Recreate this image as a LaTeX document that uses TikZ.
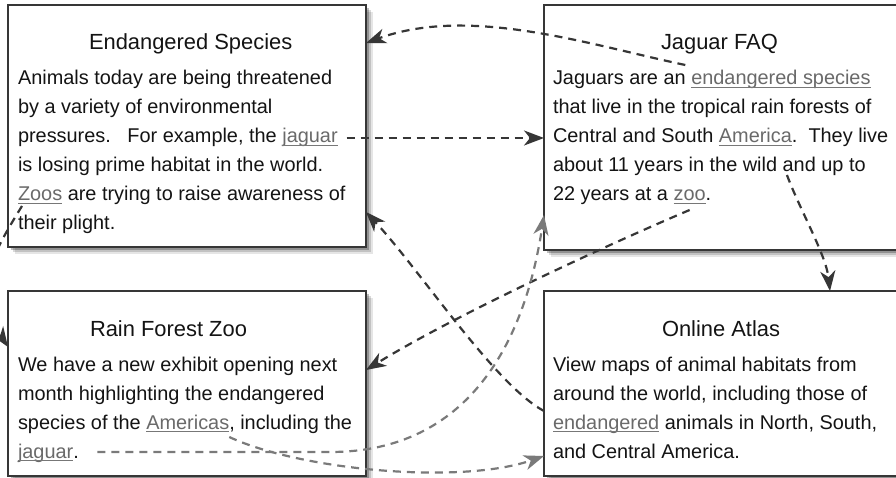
\documentclass[tikz,border=0pt]{standalone}
\usepackage{fontspec}
\setmainfont{Liberation Sans}
\usetikzlibrary{arrows.meta,calc,shadows}

\definecolor{ink}{HTML}{141414}
\definecolor{framec}{HTML}{363636}
\definecolor{linkc}{HTML}{6A6A6A}
\definecolor{ulc}{HTML}{777777}
\definecolor{wiredark}{HTML}{363636}
\definecolor{wiregray}{HTML}{7A7A7A}

\newcommand\titlefont{\fontsize{21.9}{26}\selectfont}
\newcommand\bodyfont{\fontsize{19.9}{29}\selectfont\frenchspacing}
\newcommand\wsp{\kern0.278em}

\tikzset{
  page/.style={draw=framec, line width=2.2pt, fill=white, inner sep=0pt, outer sep=0pt,
    anchor=north west,
    drop shadow={shadow xshift=7pt, shadow yshift=-7pt, opacity=0.10, fill=black},
    drop shadow={shadow xshift=5pt, shadow yshift=-5pt, opacity=0.15, fill=black},
    drop shadow={shadow xshift=3pt, shadow yshift=-3pt, opacity=0.25, fill=black}},
  heading/.style={font=\titlefont, text=ink, inner sep=0pt, outer sep=0pt, anchor=base west},
  txt/.style={font=\bodyfont, text=ink, inner sep=0pt, outer sep=0pt, anchor=base west},
  ulline/.style={draw=ulc, line width=1pt, -},
  link/.style={txt, text=linkc,
    append after command={([yshift=-2.8pt]\tikzlastnode.base west) edge[ulline] ([yshift=-2.8pt]\tikzlastnode.base east)}},
  wire/.style={draw=wiredark, line width=2.2pt, dash pattern=on 8pt off 6pt,
    -{Stealth[length=20pt, width=15pt, inset=6pt]}},
  wirelight/.style={wire, draw=wiregray},
}

\begin{document}
\begin{tikzpicture}[x=1pt, y=-1pt]
\useasboundingbox (0,0) rectangle (896,478);
\fill[white] (0,0) rectangle (896,478);
\clip (0,0) rectangle (896,478);

% page frames
\node[page, minimum width=358pt, minimum height=242pt] (es) at (8,5) {};
\node[page, minimum width=356pt, minimum height=245pt] (jf) at (544,5) {};
\node[page, minimum width=358pt, minimum height=185pt] (rf) at (8,291) {};
\node[page, minimum width=356pt, minimum height=185pt] (oa) at (544,291) {};

% Endangered Species
\node[heading] (esT) at (89,50) {Endangered Species};
\node[txt] (es1) at (18,85) {Animals today are being threatened};
\node[txt] (es2) at (18,114) {by a variety of environmental};
\node[txt] (es3) at (18,143) {pressures.\ \ \ For example, the\wsp};
\node[link] (esJag) at (es3.base east) {jaguar};
\node[txt] (es4) at (18,172) {is losing prime habitat in the world.};
\node[link] (esZoos) at (18,201) {Zoos};
\node[txt] (es5) at (esZoos.base east) {\wsp are trying to raise awareness of};
\node[txt] (es6) at (18,230) {their plight.};

% Jaguar FAQ
\node[heading] (jfT) at (661,50) {Jaguar FAQ};
\node[txt] (jf1) at (553,85) {Jaguars are an\wsp};
\node[link] (jfEnd) at (jf1.base east) {endangered species};
\node[txt] (jf2) at (553,114) {that live in the tropical rain forests of};
\node[txt] (jf3) at (553,143) {Central and South\wsp};
\node[link] (jfAm) at (jf3.base east) {America};
\node[txt] (jf3b) at (jfAm.base east) {.\ \ They live};
\node[txt] (jf4) at (553,172) {about 11 years in the wild and up to};
\node[txt] (jf5) at (553,201) {22 years at a\wsp};
\node[link] (jfZoo) at (jf5.base east) {zoo};
\node[txt] (jf5b) at (jfZoo.base east) {.};

% Rain Forest Zoo
\node[heading] (rfT) at (90,336) {Rain Forest Zoo};
\node[txt] (rf1) at (18,371) {We have a new exhibit opening next};
\node[txt] (rf2) at (18,400) {month highlighting the endangered};
\node[txt] (rf3) at (18,429) {species of the\wsp};
\node[link] (rfAm) at (rf3.base east) {Americas};
\node[txt] (rf3b) at (rfAm.base east) {, including the};
\node[link] (rfJag) at (18,458) {jaguar};
\node[txt] (rf4b) at (rfJag.base east) {.};

% Online Atlas
\node[heading] (oaT) at (662,336) {Online Atlas};
\node[txt] (oa1) at (553,371) {View maps of animal habitats from};
\node[txt] (oa2) at (553,400) {around the world, including those of};
\node[link] (oaEnd) at (553,429) {endangered};
\node[txt] (oa3b) at (oaEnd.base east) {\wsp animals in North, South,};
\node[txt] (oa4) at (553,458) {and Central America.};

% link connectors
\coordinate (c1s) at ([xshift=-6pt,yshift=20pt]jfEnd.base west);
\draw[wire] (c1s) .. controls (590,45) and (470,5) .. ($(es.north east)+(0,38)$);

\coordinate (c2s) at ([xshift=9pt,yshift=5pt]esJag.base east);
\draw[wire] (c2s) -- (c2s -| jf.west);

\coordinate (c3s) at ([xshift=-5pt,yshift=-32pt]jfAm.base east);
\draw[wire] (c3s) .. controls (800,210) and (826,255) .. ($(oa.north west)+(286,0)$);

\coordinate (c4s) at ([yshift=-9pt]jfZoo.base);
\draw[wire] (c4s) .. controls (600,248) and (450,318) .. ($(rf.north east)+(0,79)$);

\coordinate (c5s) at ($(oa.north west)+(0,120)$);
\draw[wire] (c5s) .. controls (495,385) and (420,270) .. ($(es.north east)+(0,207)$);

\coordinate (c6s) at ([xshift=24pt,yshift=6pt]rfJag.base east);
\draw[wirelight] (c6s) -- (330,452) .. controls (470,452) and (525,340) .. ($(jf.north west)+(0,210)$);

\coordinate (c7s) at ([yshift=-8pt]rfAm.base east);
\draw[wirelight] (c7s) .. controls (300,470) and (460,485) .. ($(oa.north west)+(0,165)$);

\coordinate (c8s) at ([xshift=4pt,yshift=-5pt]esZoos.base west);
\draw[wire] (c8s) .. controls (-5,250) and (-30,290) .. ($(rf.north west)+(0,56)$);
\end{tikzpicture}
\end{document}
